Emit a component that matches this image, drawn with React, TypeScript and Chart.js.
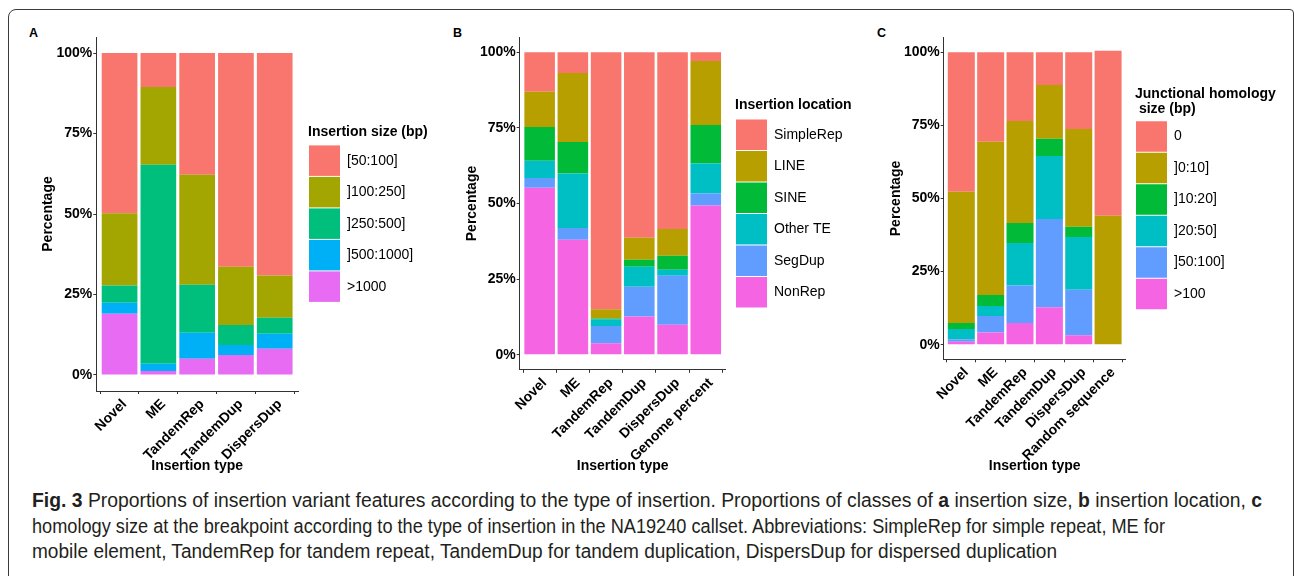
import React, { useEffect, useLayoutEffect, useRef } from 'react';
import { Chart, registerables } from 'chart.js';

Chart.register(...registerables);

const FONT = "'Liberation Sans', Arial, Helvetica, sans-serif";

// ---------- Panel A: insertion size ----------
const catsA = ['Novel', 'ME', 'TandemRep', 'TandemDup', 'DispersDup'];
const sizeLabels = ['[50:100]', ']100:250]', ']250:500]', ']500:1000]', '>1000'];
const size50to100 = [49.8, 10.5, 37.8, 66.4, 69.1];
const size100to250 = [22.4, 24.2, 34.2, 18.1, 13.1];
const size250to500 = [5.4, 61.8, 14.9, 6.2, 5.0];
const size500to1000 = [3.4, 2.3, 8.1, 3.1, 4.7];
const sizeOver1000 = [19.0, 1.2, 5.0, 6.2, 8.1];
const sizeColors = ['#F8766D', '#A3A500', '#00BF7D', '#00B0F6', '#E76BF3'];

// ---------- Panel B: insertion location ----------
const catsB = ['Novel', 'ME', 'TandemRep', 'TandemDup', 'DispersDup', 'Genome percent'];
const locLabels = ['SimpleRep', 'LINE', 'SINE', 'Other TE', 'SegDup', 'NonRep'];
const locSimpleRep = [13.0, 6.8, 85.0, 61.3, 58.4, 2.9];
const locLINE = [11.7, 22.9, 3.0, 7.3, 8.9, 21.1];
const locSINE = [11.2, 10.4, 0.3, 2.3, 4.6, 12.8];
const locOtherTE = [5.7, 18.0, 2.2, 6.6, 2.0, 9.9];
const locSegDup = [3.2, 3.9, 5.7, 9.9, 16.2, 4.0];
const locNonRep = [55.2, 38.0, 3.8, 12.6, 9.9, 49.3];

// ---------- Panel C: junctional homology size ----------
const catsC = ['Novel', 'ME', 'TandemRep', 'TandemDup', 'DispersDup', 'Random sequence'];
const homLabels = ['0', ']0:10]', ']10:20]', ']20:50]', ']50:100]', '>100'];
const hom0 = [47.7, 30.6, 23.5, 11.2, 26.2, 56.4];
const hom0to10 = [44.9, 52.4, 34.9, 18.4, 33.5, 44.1];
const hom10to20 = [2.0, 3.8, 6.8, 5.9, 3.5, 0];
const hom20to50 = [3.5, 3.4, 14.6, 21.5, 18.0, 0];
const hom50to100 = [0.9, 5.6, 12.8, 30.2, 15.6, 0];
const homOver100 = [1.0, 4.2, 7.4, 12.8, 3.2, 0];

const hue6 = ['#F8766D', '#B79F00', '#00BA38', '#00BFC4', '#619CFF', '#F564E3'];

const yTickValues = [0, 25, 50, 75, 100];

type Series = { label: string; data: number[]; color: string };

interface PanelProps {
  cats: string[];
  series: Series[]; // listed top -> bottom (legend order)
  legendTitle: string | string[];
  left: number;
  top: number;
  width: number;
  height: number;
  yAxisWidth: number;
  xAxisHeight: number;
  padTop: number;
  gap: number;
  legendWidth: number;
  titleLineHeight: number;
  titleGap: number;
}

function Panel(p: PanelProps) {
  const ref = useRef<HTMLCanvasElement>(null);
  useEffect(() => {
    const canvas = ref.current;
    if (!canvas) return;
    const boldFont = { family: FONT, size: 14, weight: 'bold' as const };
    const axisColor = '#333333';
    const stackOrder = [...p.series].reverse(); // bottom -> top for stacking
    const fixedLegendWidth = {
      id: 'fixedLegendWidth',
      beforeLayout(chart: any) {
        const lg = chart.legend;
        if (lg && !lg.__fixedWidth) {
          const orig = lg.fit.bind(lg);
          lg.fit = () => {
            orig();
            lg.width = p.legendWidth;
          };
          lg.__fixedWidth = true;
        }
      },
    };
    const chart = new Chart(canvas, {
      type: 'bar',
      data: {
        datasets: stackOrder.map((s) => ({
          label: s.label,
          data: s.data.map((v, i) => ({ x: i + 1, y: v })),
          backgroundColor: s.color,
          borderWidth: 0,
          barPercentage: 0.92,
          categoryPercentage: 1,
        })),
      },
      plugins: [fixedLegendWidth],
      options: {
        responsive: false,
        animation: false,
        devicePixelRatio: 1,
        layout: { padding: { left: 0, top: p.padTop, right: 0, bottom: 0 } },
        plugins: {
          legend: {
            position: 'right',
            align: 'center',
            fullSize: false,
            reverse: true,
            onClick: () => {},
            title: {
              display: true,
              text: p.legendTitle,
              position: 'start',
              color: '#000',
              font: { family: FONT, size: 14, weight: 'bold', lineHeight: p.titleLineHeight },
              padding: { top: 0, bottom: p.titleGap },
            },
            labels: {
              boxWidth: 31,
              boxHeight: 30.5,
              padding: 1,
              color: '#000',
              font: { family: FONT, size: 14 },
            },
          },
          tooltip: { enabled: false },
        },
        scales: {
          x: {
            type: 'linear',
            stacked: true,
            min: 0.4,
            max: p.cats.length + 0.6,
            offset: false,
            afterBuildTicks: (s: any) => {
              s.ticks = p.cats.map((_, i) => ({ value: i + 1 }));
            },
            afterFit: (s: any) => {
              s.height = p.xAxisHeight;
            },
            ticks: {
              autoSkip: false,
              minRotation: 45,
              maxRotation: 45,
              padding: 2,
              labelOffset: 5,
              color: '#000',
              font: boldFont,
              callback: (v: any) => p.cats[Math.round(Number(v)) - 1] ?? '',
            },
            grid: { display: true, drawOnChartArea: false, drawTicks: true, tickLength: 3, color: axisColor, lineWidth: 1 },
            border: { display: true, color: axisColor, width: 1 },
            title: { display: true, text: 'Insertion type', color: '#000', font: boldFont, padding: { top: 4, bottom: 4 } },
          },
          y: {
            type: 'linear',
            stacked: true,
            min: -5,
            max: 105,
            afterBuildTicks: (s: any) => {
              s.ticks = yTickValues.map((v) => ({ value: v }));
            },
            afterFit: (s: any) => {
              s.width = p.yAxisWidth;
            },
            ticks: {
              padding: 1,
              color: '#000',
              font: boldFont,
              callback: (v: any) => `${v}%`,
            },
            grid: { display: true, drawOnChartArea: false, drawTicks: true, tickLength: 3, color: axisColor, lineWidth: 1 },
            border: { display: true, color: axisColor, width: 1 },
            title: { display: true, text: 'Percentage', color: '#000', font: boldFont, padding: { top: 4, bottom: 4 } },
          },
          gapRight: {
            type: 'linear',
            position: 'right',
            display: true,
            min: 0,
            max: 1,
            afterFit: (s: any) => {
              s.width = p.gap;
            },
            ticks: { display: false },
            grid: { display: false },
            border: { display: false },
          },
        },
      } as any,
    });
    return () => chart.destroy();
  }, []);
  return (
    <canvas
      ref={ref}
      width={p.width}
      height={p.height}
      style={{ position: 'absolute', left: p.left, top: p.top, width: p.width, height: p.height }}
    />
  );
}

function FitLine({ target, top, children }: { target: number; top: number; children: React.ReactNode }) {
  const ref = useRef<HTMLDivElement>(null);
  useLayoutEffect(() => {
    const el = ref.current;
    if (!el) return;
    el.style.transform = 'none';
    const w = el.getBoundingClientRect().width;
    if (w > 0) el.style.transform = `scaleX(${target / w})`;
  }, []);
  return (
    <div
      ref={ref}
      style={{
        position: 'absolute',
        left: 32,
        top,
        whiteSpace: 'nowrap',
        transformOrigin: 'left top',
        fontFamily: "'Liberation Sans Narrow', 'Liberation Sans', Arial, sans-serif",
        fontSize: 19.5,
        lineHeight: 1,
        color: '#231f20',
      }}
    >
      {children}
    </div>
  );
}

const letterStyle: React.CSSProperties = {
  position: 'absolute',
  fontFamily: FONT,
  fontWeight: 'bold',
  fontSize: 12.5,
  lineHeight: 1,
  color: '#000',
};

export default function App() {
  const seriesA: Series[] = [
    { label: sizeLabels[0], data: size50to100, color: sizeColors[0] },
    { label: sizeLabels[1], data: size100to250, color: sizeColors[1] },
    { label: sizeLabels[2], data: size250to500, color: sizeColors[2] },
    { label: sizeLabels[3], data: size500to1000, color: sizeColors[3] },
    { label: sizeLabels[4], data: sizeOver1000, color: sizeColors[4] },
  ];
  const seriesB: Series[] = [
    { label: locLabels[0], data: locSimpleRep, color: hue6[0] },
    { label: locLabels[1], data: locLINE, color: hue6[1] },
    { label: locLabels[2], data: locSINE, color: hue6[2] },
    { label: locLabels[3], data: locOtherTE, color: hue6[3] },
    { label: locLabels[4], data: locSegDup, color: hue6[4] },
    { label: locLabels[5], data: locNonRep, color: hue6[5] },
  ];
  const seriesC: Series[] = [
    { label: homLabels[0], data: hom0, color: hue6[0] },
    { label: homLabels[1], data: hom0to10, color: hue6[1] },
    { label: homLabels[2], data: hom10to20, color: hue6[2] },
    { label: homLabels[3], data: hom20to50, color: hue6[3] },
    { label: homLabels[4], data: hom50to100, color: hue6[4] },
    { label: homLabels[5], data: homOver100, color: hue6[5] },
  ];

  return (
    <div style={{ position: 'absolute', left: 0, top: 0, width: 1294, height: 576, overflow: 'hidden', background: '#fff' }}>
      <div
        style={{
          position: 'absolute',
          left: 8,
          top: 9,
          width: 1286,
          height: 600,
          border: '1px solid #3a3a3a',
          borderTopLeftRadius: 8,
          borderTopRightRadius: 4,
          boxSizing: 'border-box',
        }}
      />
      <div style={{ ...letterStyle, left: 29, top: 26.5 }}>A</div>
      <div style={{ ...letterStyle, left: 453, top: 26.5 }}>B</div>
      <div style={{ ...letterStyle, left: 877, top: 26.5 }}>C</div>

      <Panel
        cats={catsA}
        series={seriesA}
        legendTitle="Insertion size (bp)"
        left={36}
        top={25}
        width={422}
        height={454}
        yAxisWidth={60.3}
        xAxisHeight={88}
        padTop={12}
        gap={10}
        legendWidth={150}
        titleLineHeight={1.2}
        titleGap={2.5}
      />
      <Panel
        cats={catsB}
        series={seriesB}
        legendTitle="Insertion location"
        left={460}
        top={25}
        width={420}
        height={454}
        yAxisWidth={59.7}
        xAxisHeight={109.2}
        padTop={12.2}
        gap={9.3}
        legendWidth={145}
        titleLineHeight={1.2}
        titleGap={3.2}
      />
      <Panel
        cats={catsC}
        series={seriesC}
        legendTitle={['Junctional homology', ' size (bp)']}
        left={884}
        top={25}
        width={401}
        height={454}
        yAxisWidth={59.7}
        xAxisHeight={119.7}
        padTop={12.7}
        gap={9.3}
        legendWidth={150}
        titleLineHeight={15 / 14}
        titleGap={18.7}
      />

      <FitLine target={1230} top={491}>
        <b>Fig. 3</b> Proportions of insertion variant features according to the type of insertion. Proportions of classes of{' '}
        <b>a</b> insertion size, <b>b</b> insertion location, <b>c</b>
      </FitLine>
      <FitLine target={1133} top={517}>
        homology size at the breakpoint according to the type of insertion in the NA19240 callset. Abbreviations: SimpleRep for simple repeat, ME for
      </FitLine>
      <FitLine target={1025} top={542}>
        mobile element, TandemRep for tandem repeat, TandemDup for tandem duplication, DispersDup for dispersed duplication
      </FitLine>
    </div>
  );
}
